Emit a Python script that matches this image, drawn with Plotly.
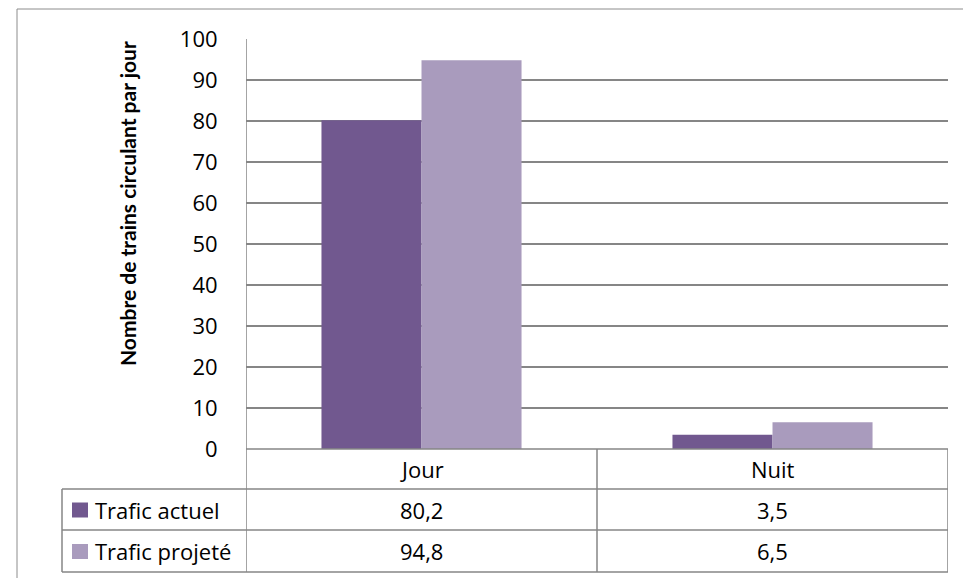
import plotly.graph_objects as go

categories = ["Jour", "Nuit"]
series_names = ["Trafic actuel", "Trafic projeté"]
trafic_actuel = [80.2, 3.5]
trafic_projete = [94.8, 6.5]
series_values = [trafic_actuel, trafic_projete]
colors = ["#71588F", "#A99BBD"]
y_ticks = [0, 10, 20, 30, 40, 50, 60, 70, 80, 90, 100]

W, H = 963, 578
FONT = "Open Sans"
GRID = "#868686"
FS = 22


def px(x):
    return x / W


def py(y):
    return 1 - y / H


plot_left, plot_right = 246, 948
plot_top, plot_bottom = 39, 449
row_lines = [449, 489, 530, 572]
table_left = 62

fig = go.Figure()
for name, vals, col in zip(series_names, series_values, colors):
    fig.add_trace(go.Bar(x=categories, y=vals, name=name, marker=dict(color=col, line=dict(width=0)),
                         showlegend=False, hoverinfo="x+y+name"))

shapes = []
annotations = []

# outer chart border
shapes.append(dict(type="rect", xref="paper", yref="paper", x0=px(17), x1=px(975), y0=py(590), y1=py(9),
                   line=dict(color="#8C8C8C", width=1), layer="below"))

# table horizontal lines
shapes.append(dict(type="line", xref="x", yref="paper", x0=-0.5, x1=len(categories) - 0.5,
                   y0=py(row_lines[0]), y1=py(row_lines[0]), line=dict(color=GRID, width=1.5)))
for ry in row_lines[1:]:
    shapes.append(dict(type="line", xref="paper", yref="paper", x0=px(table_left), x1=px(plot_right),
                       y0=py(ry), y1=py(ry), line=dict(color=GRID, width=1.5)))
# table vertical lines at category boundaries
for i in range(len(categories) + 1):
    y_top = plot_top if i == 0 else row_lines[0]
    shapes.append(dict(type="line", xref="x", yref="paper", x0=i - 0.5, x1=i - 0.5,
                       y0=py(y_top), y1=py(row_lines[-1]), line=dict(color=GRID, width=1.5)))
shapes.append(dict(type="line", xref="paper", yref="paper", x0=px(table_left), x1=px(table_left),
                   y0=py(row_lines[1]), y1=py(row_lines[-1]), line=dict(color=GRID, width=1.5)))

# header row: categories
for c in categories:
    annotations.append(dict(xref="x", yref="paper", x=c, y=py((row_lines[0] + row_lines[1]) / 2),
                            text=c, showarrow=False, xanchor="center", yanchor="middle",
                            font=dict(family=FONT, size=FS, color="black")))

# data rows
for r, (name, vals, col) in enumerate(zip(series_names, series_values, colors)):
    ytop, ybot = row_lines[r + 1], row_lines[r + 2]
    yc = (ytop + ybot) / 2
    shapes.append(dict(type="rect", xref="paper", yref="paper", x0=px(72), x1=px(88),
                       y0=py(yc + 8), y1=py(yc - 7), fillcolor=col, line=dict(width=0)))
    annotations.append(dict(xref="paper", yref="paper", x=px(93), y=py(yc), text=name, showarrow=False,
                            xanchor="left", yanchor="middle", font=dict(family=FONT, size=FS, color="black")))
    for c, v in zip(categories, vals):
        annotations.append(dict(xref="x", yref="paper", x=c, y=py(yc),
                                text=f"{v:.1f}".replace(".", ","), showarrow=False,
                                xanchor="center", yanchor="middle",
                                font=dict(family=FONT, size=FS, color="black")))

# y-axis title
annotations.append(dict(xref="paper", yref="paper", x=px(127), y=py(204), text="<b>Nombre de trains circulant par jour</b>",
                        textangle=-90, showarrow=False, xanchor="center", yanchor="middle",
                        font=dict(family="Lato", size=21, color="black")))

fig.update_layout(
    width=W, height=H,
    margin=dict(l=0, r=0, t=0, b=0, autoexpand=False),
    paper_bgcolor="white", plot_bgcolor="white",
    barmode="group", bargap=0.43, bargroupgap=0,
    shapes=shapes, annotations=annotations,
    xaxis=dict(domain=[px(plot_left), px(plot_right)], range=[-0.5, len(categories) - 0.5],
               showticklabels=False, showgrid=False, zeroline=False, showline=False,
               fixedrange=True, automargin=False),
    yaxis=dict(domain=[py(plot_bottom), py(plot_top)], range=[0, 100], tickvals=y_ticks,
               showgrid=True, gridcolor=GRID, gridwidth=1.5, zeroline=False, showline=False,
               ticks="outside", ticklen=23, tickcolor="rgba(0,0,0,0)", automargin=False,
               tickfont=dict(family=FONT, size=FS, color="black"), fixedrange=True),
    font=dict(family=FONT),
)

fig.write_html("out.html")
